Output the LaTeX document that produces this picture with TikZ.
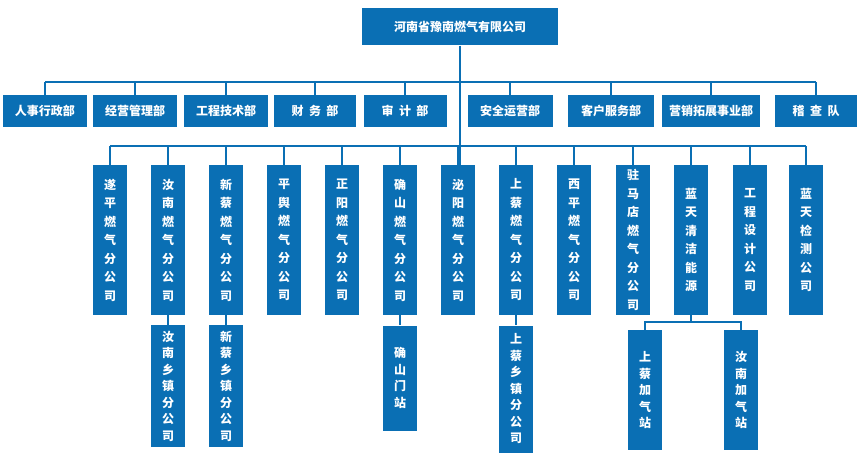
\documentclass[tikz,border=0pt]{standalone}
\usepackage{fontspec}
\setmainfont{Noto Sans CJK SC}
\begin{document}
\begin{tikzpicture}[x=1pt,y=-1pt,
        unit/.style={rectangle, fill=orgblue, text=white, font=\bfseries\fontsize{12}{14}\selectfont, inner sep=0pt},
        dept/.style={unit, minimum width=#1, minimum height=32},
        sub/.style={unit, minimum width=34, minimum height=#1, align=center, font=\bfseries\fontsize{12}{18.5}\selectfont},
        branch/.style={sub=#1, font=\bfseries\fontsize{12}{16.5}\selectfont},
        link/.style={draw=orgblue, line width=1.2pt}
    ]
        \definecolor{orgblue}{HTML}{0A6FB4}
        \useasboundingbox (0,0) rectangle (860,457);
        % head office
        \node[dept=196, minimum height=37] (head) at (460,27) {河南省豫南燃气有限公司};
        % departments
        \node[dept=84] (d1) at (45,111) {人事行政部};
        \node[dept=84] (d2) at (135,111) {经营管理部};
        \node[dept=84] (d3) at (226,111) {工程技术部};
        \node[dept=82] (d4) at (315,111) {财\ \ 务\ \ 部};
        \node[dept=83] (d5) at (405,111) {审\ \ 计\ \ 部};
        \node[dept=85] (d6) at (510,111) {安全运营部};
        \node[dept=86] (d7) at (611,111) {客户服务部};
        \node[dept=98] (d8) at (711,111) {营销拓展事业部};
        \node[dept=82] (d9) at (816,111) {稽\ \ 查\ \ 队};
        \coordinate (bus1) at (0,82);
        \draw[link] (head.south) -- (head.south |- 0,165);
        \draw[link] (d1.north |- bus1) -- (d9.north |- bus1);
        \foreach \d in {d1,d2,d3,d4,d5,d6,d7,d8,d9}
            \draw[link] (\d.north) -- (\d.north |- bus1);
        % subsidiaries
        \node[sub=150] (s1) at (110,240) {遂\\平\\燃\\气\\分\\公\\司};
        \node[sub=150] (s2) at (168,240) {汝\\南\\燃\\气\\分\\公\\司};
        \node[sub=150] (s3) at (226,240) {新\\蔡\\燃\\气\\分\\公\\司};
        \node[sub=150] (s4) at (284,240) {平\\舆\\燃\\气\\分\\公\\司};
        \node[sub=150] (s5) at (342,240) {正\\阳\\燃\\气\\分\\公\\司};
        \node[sub=150] (s6) at (400,240) {确\\山\\燃\\气\\分\\公\\司};
        \node[sub=150] (s7) at (458,240) {泌\\阳\\燃\\气\\分\\公\\司};
        \node[sub=150] (s8) at (516,240) {上\\蔡\\燃\\气\\分\\公\\司};
        \node[sub=150] (s9) at (574,240) {西\\平\\燃\\气\\分\\公\\司};
        \node[sub=150] (s10) at (633,240) {驻\\马\\店\\燃\\气\\分\\公\\司};
        \node[sub=150] (s11) at (691,240) {蓝\\天\\清\\洁\\能\\源};
        \node[sub=150] (s12) at (750,240) {工\\程\\设\\计\\公\\司};
        \node[sub=150] (s13) at (806,240) {蓝\\天\\检\\测\\公\\司};
        \coordinate (bus2) at (0,146);
        \draw[link] (s1.north |- bus2) -- (s13.north |- bus2);
        \foreach \s in {s1,s2,s3,s4,s5,s6,s7,s8,s9,s10,s11,s12,s13}
            \draw[link] (\s.north) -- (\s.north |- bus2);
        % branch offices
        \node[branch=122] (t2) at (168,386) {汝\\南\\乡\\镇\\分\\公\\司};
        \node[branch=122] (t3) at (226,386) {新\\蔡\\乡\\镇\\分\\公\\司};
        \node[branch=105] (t6) at (400,378) {确\\山\\门\\站};
        \node[branch=127] (t8) at (516,389) {上\\蔡\\乡\\镇\\分\\公\\司};
        \node[branch=120] (t11a) at (645,390) {上\\蔡\\加\\气\\站};
        \node[branch=120] (t11b) at (741,390) {汝\\南\\加\\气\\站};
        \foreach \a/\b in {s2/t2,s3/t3,s6/t6,s8/t8}
            \draw[link] (\a.south) -- (\b.north);
        \coordinate (bus3) at (0,322);
        \draw[link] (s11.south) -- (s11.south |- bus3);
        \draw[link] (t11a.north) |- (bus3 -| s11.south) -| (t11b.north);
\end{tikzpicture}
\end{document}
